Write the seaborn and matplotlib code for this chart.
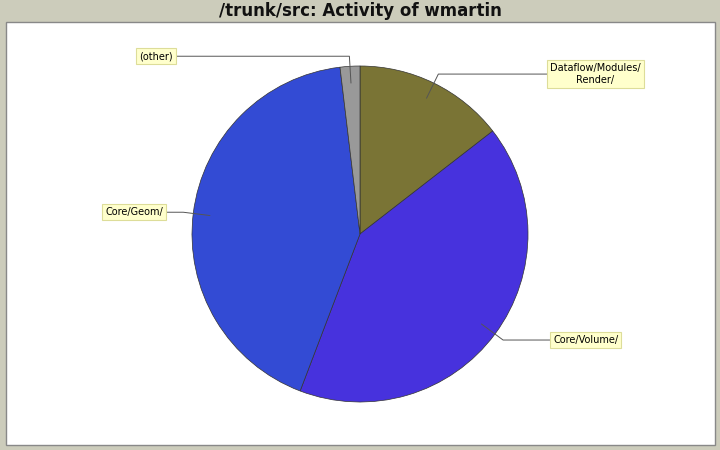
import matplotlib
matplotlib.use("Agg")
import matplotlib.pyplot as plt
from matplotlib.patches import Rectangle
import numpy as np
import seaborn as sns

# slice shares (percent), clockwise from 12 o'clock
labels = ["Dataflow/Modules/\nRender/", "Core/Volume/", "Core/Geom/", "(other)"]
shares = [14.5, 41.3, 42.3, 1.9]
colors = ["#7a7435", "#4732dd", "#334bd4", "#999999"]
# x where the label box sits, and which side of the line it is on
label_x = [550, 553, 163, 173]
label_side = ["right", "right", "left", "left"]

sns.set_theme(style="white")
plt.rcParams["font.family"] = ["DejaVu Sans"]

fig = plt.figure(figsize=(7.2, 4.5), dpi=100)
fig.patch.set_facecolor("#ccccbb")
ax = fig.add_axes([0, 0, 1, 1])

cx, cy, r = 360, 216, 168
ax.add_patch(Rectangle((6, 5), 709, 423, facecolor="white", edgecolor="#888888", lw=1, zorder=0))

wedges, _ = ax.pie(shares, colors=colors, startangle=90, counterclock=False,
                   center=(cx, cy), radius=r,
                   wedgeprops=dict(edgecolor="#333333", linewidth=0.5))

ax.set_xlim(0, 720)
ax.set_ylim(0, 450)
ax.set_aspect("auto")
ax.axis("off")

for w, lab, lx, side in zip(wedges, labels, label_x, label_side):
    mid = np.deg2rad((w.theta1 + w.theta2) / 2)
    ax_, ay_ = cx + 0.9 * r * np.cos(mid), cy + 0.9 * r * np.sin(mid)
    ex, ey = cx + 1.06 * r * np.cos(mid), cy + 1.06 * r * np.sin(mid)
    ax.plot([ax_, ex, lx], [ay_, ey, ey], color="#555555", lw=0.7, zorder=3)
    ha = "left" if side == "right" else "right"
    ax.text(lx, ey, lab, ha=ha, va="center", fontsize=7, multialignment="center",
            color="black", zorder=4,
            bbox=dict(boxstyle="square,pad=0.3", fc="#ffffcc", ec="#dddd99", lw=0.8))

ax.text(360, 439, "/trunk/src: Activity of wmartin", ha="center", va="center",
        fontsize=12, fontweight="bold", color="#111111")

fig.savefig("out.png", dpi=100, facecolor=fig.get_facecolor())
